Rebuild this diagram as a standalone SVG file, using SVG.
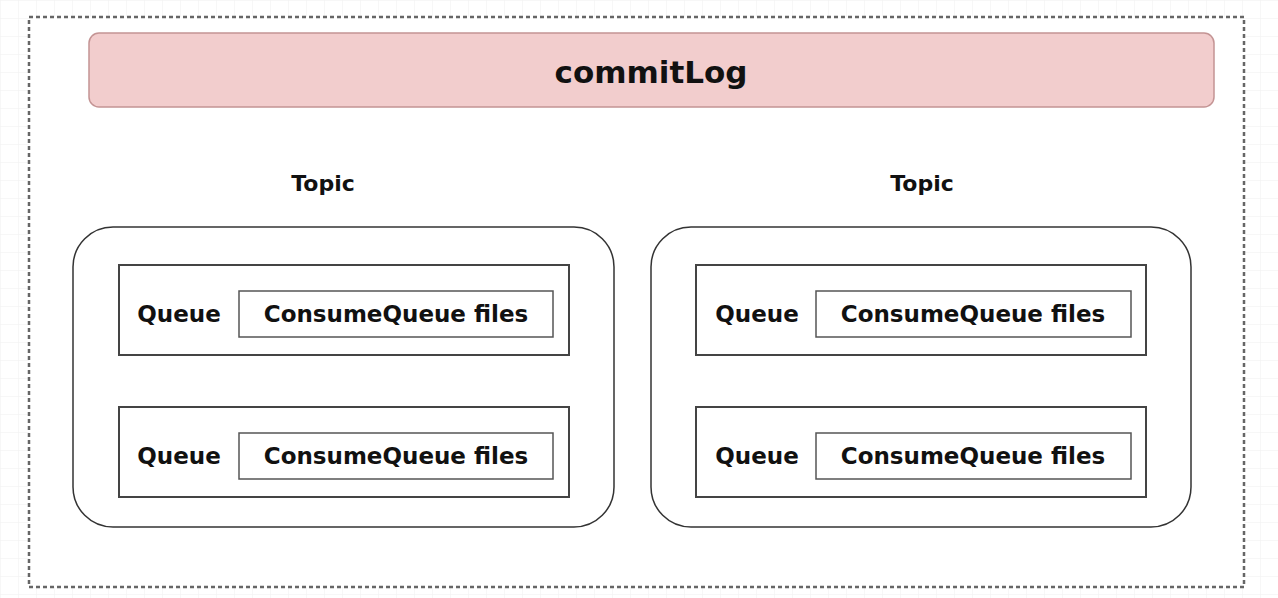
<svg xmlns="http://www.w3.org/2000/svg" width="1278" height="598" viewBox="0 0 1278 598">
<defs>
<pattern id="grid" width="18" height="18" patternUnits="userSpaceOnUse">
<path d="M18 0 L0 0 0 18" fill="none" stroke="#efefef" stroke-width="1"/>
</pattern>
<style>
.t{font-family:"DejaVu Sans","Liberation Sans",sans-serif;font-weight:bold;fill:#111;text-anchor:middle}
.topic{fill:#fff;stroke:#333;stroke-width:1.5}
.queue{fill:#fff;stroke:#444;stroke-width:2}
.files{fill:#fff;stroke:#555;stroke-width:1.5}
</style>
</defs>
<rect width="1278" height="598" fill="#fff"/>
<rect width="1278" height="598" fill="url(#grid)"/>
<g id="container">
<rect x="29" y="17" width="1215" height="570" fill="#fff" stroke="#666" stroke-width="2.5" stroke-dasharray="4 3"/>
</g>
<g id="commitLog">
<rect x="89" y="33" width="1125" height="74" rx="10" fill="#f2cdcd" stroke="#c49494" stroke-width="1.5"/>
<text class="t" x="651" y="83" font-size="31">commitLog</text>
</g>
<g id="topic1">
<text class="t" x="323" y="191" font-size="22">Topic</text>
<rect class="topic" x="73" y="227" width="541" height="300" rx="40"/>
<g id="queue1a">
<rect class="queue" x="119" y="265" width="450" height="90"/>
<text class="t" x="179" y="322" font-size="23">Queue</text>
<rect class="files" x="239" y="291" width="314" height="46"/>
<text class="t" x="396" y="322" font-size="23">ConsumeQueue files</text>
</g>
<g id="queue1b">
<rect class="queue" x="119" y="407" width="450" height="90"/>
<text class="t" x="179" y="464" font-size="23">Queue</text>
<rect class="files" x="239" y="433" width="314" height="46"/>
<text class="t" x="396" y="464" font-size="23">ConsumeQueue files</text>
</g>
</g>
<g id="topic2">
<text class="t" x="922" y="191" font-size="22">Topic</text>
<rect class="topic" x="651" y="227" width="540" height="300" rx="40"/>
<g id="queue2a">
<rect class="queue" x="696" y="265" width="450" height="90"/>
<text class="t" x="757" y="322" font-size="23">Queue</text>
<rect class="files" x="816" y="291" width="315" height="46"/>
<text class="t" x="973" y="322" font-size="23">ConsumeQueue files</text>
</g>
<g id="queue2b">
<rect class="queue" x="696" y="407" width="450" height="90"/>
<text class="t" x="757" y="464" font-size="23">Queue</text>
<rect class="files" x="816" y="433" width="315" height="46"/>
<text class="t" x="973" y="464" font-size="23">ConsumeQueue files</text>
</g>
</g>
<g id="connectors"/>
</svg>
